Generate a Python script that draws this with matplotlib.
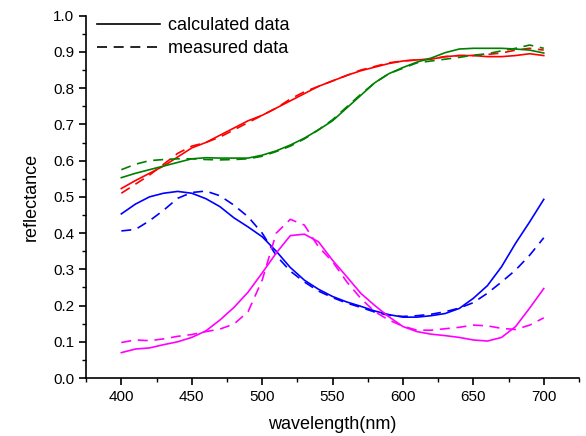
import matplotlib
matplotlib.use("Agg")
import matplotlib.pyplot as plt
from matplotlib.ticker import MultipleLocator
from matplotlib.lines import Line2D

plt.rcParams['font.family'] = ['Liberation Sans', 'DejaVu Sans']

# wavelength grid (nm)
wl = list(range(400, 701, 10))

red_calc = [0.523, 0.545, 0.565, 0.585, 0.61, 0.635, 0.65, 0.67, 0.69, 0.71, 0.725,
            0.745, 0.765, 0.785, 0.805, 0.82, 0.835, 0.848, 0.858, 0.868, 0.875,
            0.878, 0.88, 0.887, 0.89, 0.89, 0.887, 0.887, 0.89, 0.895, 0.89]
red_meas = [0.51, 0.535, 0.56, 0.59, 0.62, 0.64, 0.65, 0.665, 0.685, 0.705, 0.725,
            0.745, 0.77, 0.79, 0.805, 0.82, 0.835, 0.85, 0.86, 0.87, 0.875,
            0.878, 0.88, 0.887, 0.89, 0.89, 0.893, 0.897, 0.905, 0.91, 0.905]
green_calc = [0.553, 0.565, 0.575, 0.585, 0.595, 0.605, 0.608, 0.607, 0.607, 0.607, 0.615,
              0.627, 0.643, 0.662, 0.685, 0.71, 0.745, 0.78, 0.815, 0.84, 0.857,
              0.872, 0.883, 0.898, 0.908, 0.91, 0.91, 0.91, 0.908, 0.905, 0.897]
green_meas = [0.575, 0.59, 0.6, 0.603, 0.605, 0.605, 0.603, 0.602, 0.603, 0.605, 0.612,
              0.625, 0.64, 0.66, 0.685, 0.713, 0.748, 0.783, 0.815, 0.84, 0.855,
              0.87, 0.875, 0.88, 0.885, 0.891, 0.895, 0.903, 0.91, 0.919, 0.91]
blue_calc = [0.453, 0.48, 0.50, 0.51, 0.515, 0.51, 0.495, 0.473, 0.442, 0.417, 0.39,
             0.35, 0.305, 0.27, 0.245, 0.225, 0.21, 0.198, 0.185, 0.175, 0.168,
             0.168, 0.172, 0.178, 0.192, 0.22, 0.255, 0.307, 0.372, 0.431, 0.493]
blue_meas = [0.406, 0.41, 0.434, 0.463, 0.496, 0.512, 0.516, 0.503, 0.477, 0.445, 0.40,
             0.338, 0.295, 0.265, 0.24, 0.222, 0.207, 0.195, 0.182, 0.173, 0.17,
             0.172, 0.176, 0.183, 0.193, 0.208, 0.234, 0.265, 0.298, 0.339, 0.387]
mag_calc = [0.07, 0.08, 0.083, 0.092, 0.10, 0.112, 0.13, 0.16, 0.195, 0.237, 0.29,
            0.345, 0.393, 0.397, 0.376, 0.325, 0.28, 0.234, 0.2, 0.169, 0.142,
            0.128, 0.121, 0.117, 0.112, 0.105, 0.102, 0.112, 0.142, 0.193, 0.247]
mag_meas = [0.098, 0.105, 0.103, 0.108, 0.115, 0.12, 0.128, 0.135, 0.149, 0.183, 0.27,
            0.40, 0.438, 0.422, 0.362, 0.321, 0.266, 0.22, 0.183, 0.16, 0.143,
            0.132, 0.132, 0.136, 0.14, 0.146, 0.144, 0.137, 0.134, 0.146, 0.166]

fig = plt.figure(figsize=(5.86, 4.36), dpi=100)
ax = fig.add_axes([0.147, 0.133, 0.841, 0.831])

lw = 1.2
dash = (6, 4)
series = [(red_calc, red_meas, '#ff0000'),
          (green_calc, green_meas, '#008000'),
          (blue_calc, blue_meas, '#0000ff'),
          (mag_calc, mag_meas, '#ff00ff')]
for calc, meas, c in series:
    ax.plot(wl, calc, color=c, lw=lw)
    ax.plot(wl, meas, color=c, lw=lw, dashes=dash)

ax.set_xlim(375, 725)
ax.set_ylim(0, 1.0)
ax.xaxis.set_major_locator(MultipleLocator(50))
ax.xaxis.set_minor_locator(MultipleLocator(25))
ax.yaxis.set_major_locator(MultipleLocator(0.1))
ax.yaxis.set_minor_locator(MultipleLocator(0.05))
ax.yaxis.set_major_formatter(plt.FormatStrFormatter('%.1f'))
ax.spines['top'].set_visible(False)
ax.spines['right'].set_visible(False)
for s in ['left', 'bottom']:
    ax.spines[s].set_linewidth(1.2)
ax.tick_params(which='major', direction='out', length=5, width=1.2, labelsize=11)
ax.tick_params(which='minor', direction='out', length=3, width=1.0)

ax.set_xlabel('wavelength(nm)', fontsize=13, labelpad=9)
ax.set_ylabel('reflectance', fontsize=13, labelpad=10)

handles = [Line2D([], [], color='black', lw=lw),
           Line2D([], [], color='black', lw=lw, dashes=dash)]
ax.legend(handles, ['calculated data', 'measured data'], loc='upper left',
          frameon=False, fontsize=13, handlelength=3.5, handletextpad=0.45,
          borderaxespad=0.2, labelspacing=0.3, bbox_to_anchor=(0.0, 1.025))

fig.savefig('out.png', dpi=100)
